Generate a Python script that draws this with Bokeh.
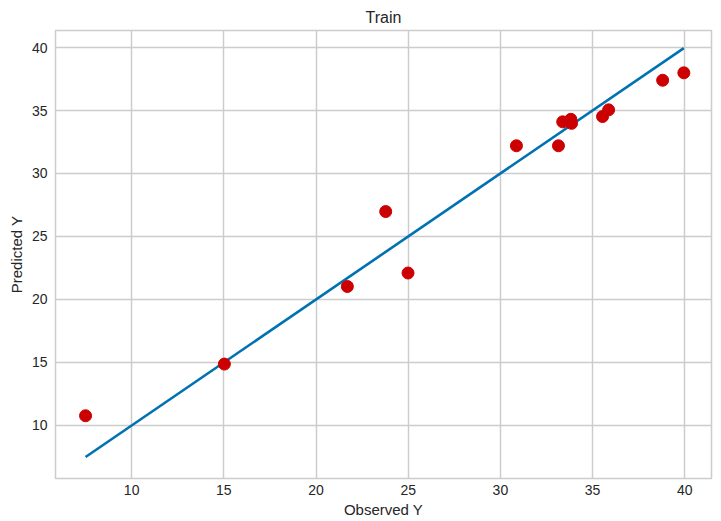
from bokeh.plotting import figure
from bokeh.models import Range1d, FixedTicker
from bokeh.embed import file_html
from bokeh.resources import INLINE

observed = [7.5, 15.03, 21.7, 23.78, 24.99, 30.87, 33.15, 33.38, 33.82, 33.86, 35.54, 35.87, 38.8, 39.95]
predicted = [10.77, 14.87, 21.03, 26.98, 22.1, 32.2, 32.2, 34.1, 34.3, 33.98, 34.52, 35.05, 37.4, 37.99]
line_x = [7.5, 39.95]
line_y = [7.5, 39.95]
ticks = [10, 15, 20, 25, 30, 35, 40]

FONT = "Liberation Sans"
TXT = "#262626"

p = figure(width=721, height=521, output_backend="svg", toolbar_location=None,
           x_range=Range1d(5.87, 41.45), y_range=Range1d(5.79, 41.35),
           min_border_left=55, min_border_right=10, min_border_top=30, min_border_bottom=43,
           title="Train")

p.title.align = "center"
p.title.text_font = FONT
p.title.text_font_size = "16px"
p.title.text_font_style = "normal"
p.title.text_color = TXT
p.title.offset = 0

p.outline_line_color = "#cccccc"
p.outline_line_width = 1.5
p.background_fill_color = "white"
p.border_fill_color = "white"

for ax in (p.xaxis, p.yaxis):
    ax.ticker = FixedTicker(ticks=ticks)
    ax.axis_line_color = None
    ax.major_tick_line_color = None
    ax.minor_tick_line_color = None
    ax.major_tick_out = 0
    ax.major_tick_in = 0
    ax.major_label_text_font = FONT
    ax.major_label_text_font_size = "14px"
    ax.major_label_text_color = TXT
    ax.axis_label_text_font = FONT
    ax.axis_label_text_font_size = "15px"
    ax.axis_label_text_font_style = "normal"
    ax.axis_label_text_color = TXT

p.xaxis.axis_label = "Observed Y"
p.yaxis.axis_label = "Predicted Y"
p.xaxis.major_label_standoff = 6
p.yaxis.major_label_standoff = 8
p.xaxis.axis_label_standoff = 3
p.yaxis.axis_label_standoff = 4

for g in (p.xgrid, p.ygrid):
    g.ticker = FixedTicker(ticks=ticks)
    g.grid_line_color = "#cccccc"
    g.grid_line_width = 1.5

p.line(line_x, line_y, line_color="#0072B2", line_width=2.6)
p.scatter(observed, predicted, size=12, fill_color="#CC0000", line_color="#CC0000")

open("out.html", "w").write(file_html(p, INLINE))
